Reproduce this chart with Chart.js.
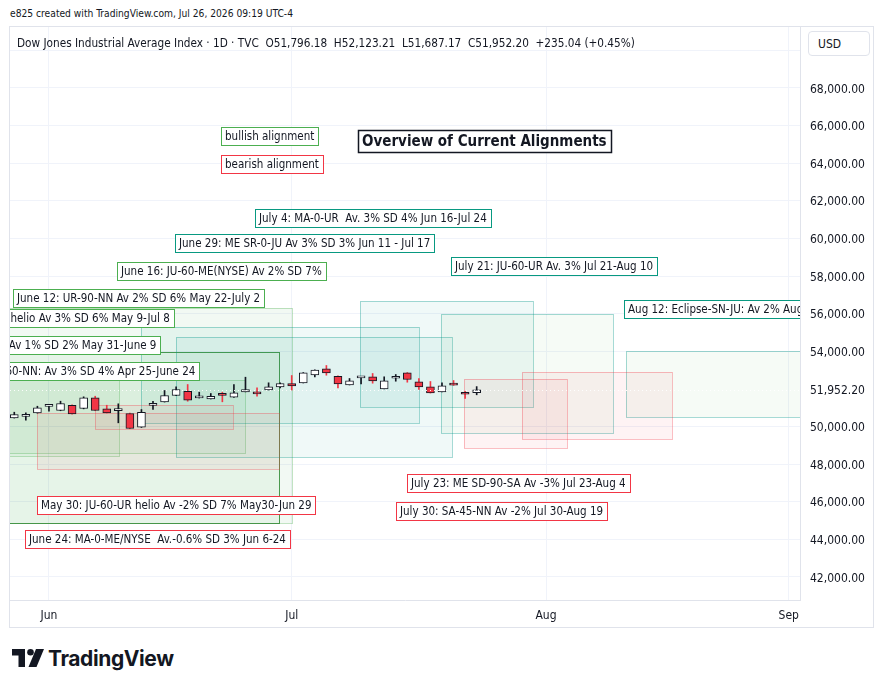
<!DOCTYPE html>
<html>
<head>
<meta charset="utf-8">
<script src="https://cdn.jsdelivr.net/npm/chart.js@4.4.1/dist/chart.umd.min.js"></script>
<style>
body{margin:0;background:#fff;width:884px;height:689px;overflow:hidden;position:relative;
  font-family:"DejaVu Sans Condensed","Liberation Sans Narrow",sans-serif;color:#131722}
#title{position:absolute;left:10px;top:8px;font-size:10.2px}
#frame{position:absolute;left:9px;top:26px;width:863px;height:600px;border:1px solid #e0e3eb}
#myChart{position:absolute;left:0;top:0}
#legend{position:absolute;left:7px;top:9px;font-size:11.7px;white-space:pre}
#usd{position:absolute;right:3px;top:4px;width:62px;height:25px;border:1px solid #e0e3eb;border-radius:4px;
  font-size:12px;line-height:25px;padding-left:9px;box-sizing:border-box;background:#fff}
#logo{position:absolute;left:12px;top:648px;height:24px}
#logo span{position:absolute;left:36px;top:-2px;font-family:Inter,Roboto,sans-serif;font-weight:700;font-size:21px;letter-spacing:-0.4px;color:#131722}
</style>
</head>
<body>
<div id="title">e825 created with TradingView.com, Jul 26, 2026 09:19 UTC-4</div>
<div id="frame">
  <canvas id="myChart" width="863" height="600"></canvas>
  <div id="legend">Dow Jones Industrial Average Index · 1D · TVC  O51,796.18  H52,123.21  L51,687.17  C51,952.20  +235.04 (+0.45%)</div>
  <div id="usd">USD</div>
</div>
<div id="logo">
  <svg width="34" height="20" viewBox="0 0 34 20">
    <path d="M0 1 H13 V19 H6.5 V7.5 H0 Z" fill="#131722"/>
    <circle cx="18.5" cy="4.3" r="3.3" fill="#131722"/>
    <path d="M24 1 H32 L24.5 19 H16.5 Z" fill="#131722"/>
  </svg>
  <span>TradingView</span>
</div>
<script>
function $(value){
    return document.getElementById(value);
}

// daily candles, first one sits 3 bars before Jun 1
var dates = ['May 27','May 28','May 29','Jun 1','Jun 2','Jun 3','Jun 4','Jun 5','Jun 8','Jun 9',
  'Jun 10','Jun 11','Jun 12','Jun 15','Jun 16','Jun 17','Jun 18','Jun 22','Jun 23','Jun 24',
  'Jun 25','Jun 26','Jun 29','Jun 30','Jul 1','Jul 2','Jul 6','Jul 7','Jul 8','Jul 9',
  'Jul 10','Jul 13','Jul 14','Jul 15','Jul 16','Jul 17','Jul 20','Jul 21','Jul 22','Jul 23','Jul 24'];
var opens = [50463,50540,50729,51075,50851,51133,50958,51527,50942,50845,
  50692,49963,51128,51314,51649,51878,51522,51474,51670,51559,
  51846,51846,51952,52112,52288,52325,52750,53070,52676,52218,
  52586,52644,52006,52565,52857,52378,52112,51846,52230,51730,51796.18];
var highs = [50761,50729,51080,51090,51346,51150,51580,51612,51133,51208,
  50710,50904,51346,51915,52112,52234,51825,51756,51825,52234,
  52623,52059,52325,52325,52713,52870,53015,53245,52690,52554,
  52600,52820,52644,52766,52870,52554,52394,52325,52447,51878,52123.21];
var lows = [50450,50335,50710,50814,50840,50660,50940,50840,50720,50197,
  49880,49950,50904,51300,51640,51346,51515,51465,51314,51550,
  51840,51612,51945,52059,51942,52315,52633,52729,52059,52210,
  52272,52304,52000,52410,52357,51968,51780,51840,52190,51490,51687.17];
var closes = [50638,50550,50995,51080,51224,50676,51527,50851,50729,50855,
  49894,50761,51138,51649,51968,51399,51530,51612,51660,51793,
  51968,51740,52112,52288,52165,52857,53006,52857,52272,52431,
  52596,52431,52431,52575,52500,52112,51793,52165,52200,51717,51952.20];
var firstBar = -3;

var monthTickBars = [0, 21, 43, 64];
var monthTickLabels = ['Jun', 'Jul', 'Aug', 'Sep'];
var priceTicks = [42000,44000,46000,48000,50000,51952.20,54000,56000,58000,60000,62000,64000,66000,68000,70000];
var lastClose = 51952.20;

// rectangles: bar from/to, price top/bottom
var zones = [
  {x0:-6, x1:21.0, top:56287, bottom:44855, kind:'bull'},
  {x0:-6, x1:19.9, top:53979, bottom:44855, kind:'bullDark'},
  {x0:-6, x1:17.0, top:52474, bottom:48577, kind:'bull'},
  {x0:-6, x1:6.05, top:52847, bottom:48434, kind:'bull'},
  {x0:8.0, x1:32.0, top:55292, bottom:50172, kind:'teal'},
  {x0:11.0, x1:34.9, top:54776, bottom:48367, kind:'teal'},
  {x0:26.9, x1:41.9, top:56675, bottom:51054, kind:'teal'},
  {x0:33.9, x1:48.8, top:55967, bottom:49640, kind:'tealGreen'},
  {x0:49.9, x1:70, top:54037, bottom:50491, kind:'tealGreen'},
  {x0:-1.0, x1:19.9, top:50704, bottom:47742, kind:'bear'},
  {x0:4.0, x1:15.9, top:51129, bottom:49853, kind:'bear'},
  {x0:35.9, x1:44.8, top:52512, bottom:48843, kind:'bear'},
  {x0:40.9, x1:53.9, top:52883, bottom:49321, kind:'bear'}
];
var zoneStyle = {
  bull:      {fill:'rgba(76,175,80,0.07)',  line:'rgba(76,175,80,0.35)'},
  bullDark:  {fill:'rgba(76,175,80,0.07)',  line:'rgba(56,142,60,0.9)'},
  teal:      {fill:'rgba(0,150,136,0.06)',  line:'rgba(0,150,136,0.35)'},
  tealGreen: {fill:'rgba(76,175,80,0.05)',  line:'rgba(0,150,136,0.35)'},
  bear:      {fill:'rgba(242,54,69,0.06)',  line:'rgba(242,54,69,0.32)'}
};

// text notes: anchor bar / price of top-left corner (top-right when align right)
var notes = [
  {text:'bullish alignment', x:14.88, y:65926, kind:'green'},
  {text:'bearish alignment', x:14.88, y:64438, kind:'red'},
  {text:'Overview of Current Alignments', x:26.73, y:65767, kind:'title'},
  {text:'July 4: MA-0-UR  Av. 3% SD 4% Jun 16-Jul 24', x:17.82, y:61566, kind:'teal'},
  {text:'June 29: ME SR-0-JU Av 3% SD 3% Jun 11 - Jul 17', x:10.9, y:60237, kind:'teal'},
  {text:'June 16: JU-60-ME(NYSE) Av 2% SD 7%', x:5.88, y:58749, kind:'green'},
  {text:'July 21: JU-60-UR Av. 3% Jul 21-Aug 10', x:34.78, y:59014, kind:'teal'},
  {text:'June 12: UR-90-NN Av 2% SD 6% May 22-July 2', x:-3.11, y:57313, kind:'green'},
  {text:'May 9: SA-0-NN helio Av 3% SD 6% May 9-Jul 8', x:10.81, y:56250, kind:'green', align:'right'},
  {text:'May 31: VE-0-JU Av 1% SD 2% May 31-June 9', x:9.6, y:54814, kind:'green', align:'right'},
  {text:'Apr 25: SA-60-NN: Av 3% SD 4% Apr 25-June 24', x:12.98, y:53432, kind:'green', align:'right'},
  {text:'Aug 12: Eclipse-SN-JU: Av 2% Aug 12-Sep 4', x:49.74, y:56728, kind:'teal'},
  {text:'July 23: ME SD-90-SA Av -3% Jul 23-Aug 4', x:30.97, y:47476, kind:'red'},
  {text:'July 30: SA-45-NN Av -2% Jul 30-Aug 19', x:30.02, y:45987, kind:'red'},
  {text:'May 30: JU-60-UR helio Av -2% SD 7% May30-Jun 29', x:-1.04, y:46307, kind:'red'},
  {text:'June 24: MA-0-ME/NYSE  Av.-0.6% SD 3% Jun 6-24', x:-2.08, y:44499, kind:'red'}
];
var labelFont = '11.5px "DejaVu Sans Condensed","Liberation Sans Narrow",sans-serif';
var noteStyle = {
  green: {color:'#4caf50', font:labelFont, h:18, lw:1},
  red:   {color:'#f23645', font:labelFont, h:18, lw:1},
  teal:  {color:'#089981', font:labelFont, h:18, lw:1},
  title: {color:'#131722', font:'bold 15px "DejaVu Sans Condensed",sans-serif', h:22, lw:1.5}
};

var axisFont = {family:'"DejaVu Sans Condensed","Liberation Sans Narrow",sans-serif', size:12};

var overlay = {
    id: 'overlay',
    beforeDatasetsDraw: function(chart){
        var c = chart.ctx, a = chart.chartArea, xs = chart.scales.x, ys = chart.scales.y;
        c.save();
        c.beginPath();
        c.rect(a.left, a.top, a.right - a.left, a.bottom - a.top);
        c.clip();
        zones.forEach(function(z){
            var st = zoneStyle[z.kind];
            var x0 = Math.round(xs.getPixelForValue(z.x0)), x1 = Math.round(xs.getPixelForValue(z.x1));
            var y0 = Math.round(ys.getPixelForValue(z.top)), y1 = Math.round(ys.getPixelForValue(z.bottom));
            c.fillStyle = st.fill;
            c.fillRect(x0, y0, x1 - x0, y1 - y0);
            c.strokeStyle = st.line;
            c.lineWidth = 1;
            c.strokeRect(x0 + 0.5, y0 + 0.5, x1 - x0, y1 - y0);
        });
        c.restore();
    },
    afterDatasetsDraw: function(chart){
        var c = chart.ctx, a = chart.chartArea, xs = chart.scales.x, ys = chart.scales.y;
        c.save();
        c.beginPath();
        c.rect(a.left, a.top, a.right - a.left, a.bottom - a.top);
        c.clip();
        // last price line
        var py = Math.round(ys.getPixelForValue(lastClose)) + 0.5;
        c.strokeStyle = 'rgba(255,255,255,0.95)';
        c.setLineDash([1, 3]);
        c.lineWidth = 1;
        c.beginPath();
        c.moveTo(a.left, py);
        c.lineTo(a.right, py);
        c.stroke();
        c.setLineDash([]);
        notes.forEach(function(n){
            var st = noteStyle[n.kind];
            c.font = st.font;
            var w = Math.round(c.measureText(n.text).width) + 8;
            var x = Math.round(xs.getPixelForValue(n.x));
            var y = Math.round(ys.getPixelForValue(n.y));
            if(n.align == 'right'){
                x = x - w;
            }
            c.fillStyle = '#ffffff';
            c.fillRect(x, y, w, st.h);
            c.strokeStyle = st.color;
            c.lineWidth = st.lw;
            c.strokeRect(x + 0.5, y + 0.5, w, st.h);
            c.fillStyle = '#131722';
            c.textBaseline = 'middle';
            c.textAlign = 'left';
            c.fillText(n.text, x + 4, y + st.h / 2 + 1);
        });
        c.restore();
    }
};

var bodies = [], wicks = [], bodyColors = [], wickColors = [];
for(var i = 0; i < dates.length; i++){
    var up = closes[i] >= opens[i];
    bodies.push({x: firstBar + i, y: [opens[i], closes[i]]});
    wicks.push({x: firstBar + i, y: [lows[i], highs[i]]});
    bodyColors.push(up ? '#ffffff' : '#f23645');
    wickColors.push(up ? '#131722' : '#f23645');
}

var myChart = new Chart($("myChart"), {
    type: 'bar',
    data: {
        datasets: [{
            label: 'body',
            data: bodies,
            backgroundColor: bodyColors,
            borderColor: '#131722',
            borderWidth: 1,
            borderSkipped: false,
            barThickness: 8,
            minBarLength: 2,
            grouped: false,
            order: 0
        }, {
            label: 'wick',
            data: wicks,
            backgroundColor: wickColors,
            borderWidth: 0,
            barThickness: 1,
            grouped: false,
            order: 1
        }]
    },
    options: {
        responsive: false,
        animation: false,
        layout: {padding: 0},
        plugins: {legend: {display: false}, tooltip: {enabled: false}},
        scales: {
            x: {
                type: 'linear',
                min: -3.37,
                max: 64.97,
                offset: false,
                afterBuildTicks: function(s){
                    s.ticks = monthTickBars.map(function(v){ return {value: v}; });
                },
                afterFit: function(s){ s.height = 27; s.paddingLeft = 0; s.paddingRight = 0; },
                ticks: {
                    autoSkip: false,
                    maxRotation: 0,
                    padding: 9,
                    color: '#131722',
                    font: axisFont,
                    callback: function(v){ return monthTickLabels[monthTickBars.indexOf(v)]; }
                },
                grid: {color: '#f0f3fa', drawTicks: false, offset: false},
                border: {color: '#e0e3eb'}
            },
            y: {
                position: 'right',
                min: 40777,
                max: 71243,
                afterBuildTicks: function(s){
                    s.ticks = priceTicks.map(function(v){ return {value: v}; });
                },
                afterFit: function(s){ s.width = 73; s.paddingTop = 0; s.paddingBottom = 0; },
                ticks: {
                    padding: 10,
                    labelOffset: 1.5,
                    color: '#131722',
                    font: axisFont,
                    callback: function(v){
                        if(v == 70000) return '';
                        return v.toLocaleString('en-US', {minimumFractionDigits: 2, maximumFractionDigits: 2});
                    }
                },
                grid: {
                    drawTicks: false,
                    color: function(ctx){ return ctx.tick && ctx.tick.value == lastClose ? 'rgba(0,0,0,0)' : '#f0f3fa'; }
                },
                border: {color: '#e0e3eb'}
            }
        }
    },
    plugins: [overlay]
});
</script>
</body>
</html>
